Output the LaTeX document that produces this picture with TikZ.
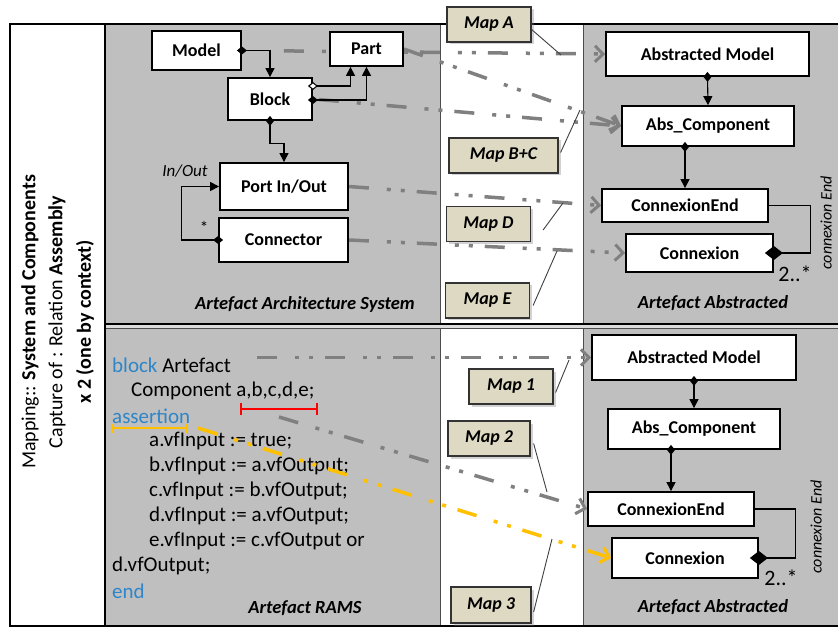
\documentclass[tikz,border=0pt]{standalone}
\usepackage{fontspec}
\setmainfont{Carlito}
\usetikzlibrary{arrows.meta,shadows}
\definecolor{panelgray}{RGB}{191,191,191}
\definecolor{linkgray}{RGB}{128,128,128}
\definecolor{maptan}{RGB}{221,217,195}
\definecolor{kwblue}{RGB}{46,134,200}
\definecolor{asrorange}{RGB}{255,192,0}
\pgfdeclarelayer{back}
\pgfdeclarelayer{links}
\pgfsetlayers{back,links,main}

\begin{document}
\begin{tikzpicture}[x=1pt,y=-1pt,
    every node/.style={font=\fontsize{17}{20}\selectfont},
    cls/.style={draw=black,line width=1.8pt,fill=white,inner sep=0pt,
      font=\fontsize{18}{20}\selectfont\bfseries},
    mapbox/.style={draw=black!80,line width=1.2pt,fill=maptan,inner sep=0pt,
      minimum width=84,minimum height=35,font=\fontsize{18}{20}\selectfont\bfseries\itshape,
      drop shadow={shadow xshift=2.5pt,shadow yshift=-2.5pt,opacity=0.35}},
    ttl/.style={font=\fontsize{18.5}{20}\selectfont\bfseries\itshape},
    code/.style={anchor=west,inner sep=0pt,font=\fontsize{21}{25}\selectfont},
    side/.style={rotate=90,inner sep=0pt,font=\fontsize{20}{24}\selectfont},
    endlbl/.style={rotate=90,inner sep=0pt,font=\fontsize{16}{18}\selectfont\itshape},
    comp/.style={line width=1.1pt,shorten <=-5pt,
      {Diamond[length=10pt,width=8pt]}-{Triangle[length=9pt,width=9pt]}},
    aggr/.style={line width=1.1pt,shorten <=-5pt,
      {Diamond[length=10pt,width=8pt,fill=white]}-{Triangle[length=9pt,width=9pt]}},
    map/.style={draw=linkgray,line width=3.5pt,
      dash pattern=on 20pt off 18pt on 4pt off 10pt on 4pt off 12pt,
      -{Straight Barb[length=8pt,width=16pt,line width=3pt]}},
    leader/.style={draw=black!75,line width=0.9pt}]
  \useasboundingbox (0,0) rectangle (838,628);

  % panels
  \begin{pgfonlayer}{back}
    \fill[panelgray!55] (105,323) rectangle (842,330);
    \draw[fill=panelgray,draw=black!70,line width=1pt] (105,24) rectangle (440,324);
    \draw[fill=white,draw=black!70,line width=1pt] (440,24) rectangle (583,324);
    \draw[fill=panelgray,draw=black!70,line width=1pt] (583,24) rectangle (842,324);
    \draw[fill=panelgray,draw=black!70,line width=1pt] (105,329) rectangle (440,626);
    \draw[fill=white,draw=black!70,line width=1pt] (440,329) rectangle (583,626);
    \draw[fill=panelgray,draw=black!70,line width=1pt] (583,329) rectangle (842,626);
    \draw[line width=2pt] (105,324) -- (842,324);
    \draw[line width=2.2pt] (10,24) rectangle (845,626);
    \draw[fill=white,line width=2.2pt] (10,24) rectangle (105,626);
  \end{pgfonlayer}

  % side title
  \node[side] (side1) at (30,322) {Mapping:: \textbf{System and Components}};
  \node[side] (side2) at (57,322) {Capture of : Relation \textbf{Assembly}};
  \node[side] (side3) at (85,322) {\textbf{x 2 (one by context)}};

  % architecture system
  \node[cls,minimum width=89,minimum height=39] (model) at (196.5,50.5) {Model};
  \node[cls,minimum width=73,minimum height=34] (part) at (366.5,49) {Part};
  \node[cls,minimum width=84,minimum height=42] (block) at (270,99) {Block};
  \node[cls,minimum width=128,minimum height=47] (port) at (284,186.5) {Port In/Out};
  \node[cls,minimum width=129,minimum height=44] (connector) at (283.5,240) {Connector};
  \node[font=\fontsize{17}{20}\selectfont\itshape] (inout) at (185,171) {In/Out};
  \node (star) at (204,227) {*};
  \node[ttl] (ttlsys) at (305,304) {Artefact Architecture System};

  \draw[comp] (model.east) -| (block.north);
  \draw[aggr] ([yshift=13pt]block.east) -| ([xshift=-16pt]part.south);
  \draw[comp] ([yshift=-1pt]block.east) -| (part.south);
  \draw[comp] (block.south) -- ++(0,23) -| (port.north);
  \draw[comp] (connector.west) -- ++(-37,0) |- (port.west);

  % abstracted (top)
  \node[cls,minimum width=203,minimum height=44] (am) at (707.5,54) {Abstracted Model};
  \node[cls,minimum width=172,minimum height=40] (ac) at (708,126) {Abs\_Component};
  \node[cls,minimum width=166,minimum height=33] (ce) at (685,205.5) {ConnexionEnd};
  \node[cls,minimum width=147,minimum height=38] (cx) at (699.5,253) {Connexion};
  \node[endlbl] (ceend) at (826,223) {connexion End};
  \node[font=\fontsize{22}{24}\selectfont] (mult) at (795,274) {2..*};
  \node[ttl] (ttlabs) at (713,303) {Artefact Abstracted};

  \draw[comp] (am.south) -- (ac.north);
  \draw[comp] (ac.south -| ce.north) -- (ce.north);
  \draw[line width=1.1pt,shorten <=-9pt,{Diamond[length=18pt,width=14pt]}-] (cx.east) -- ++(37,0) |- (ce.east);

  % RAMS code
  \foreach \cx/\cy/\ctxt [count=\i] in {
      112/365/{{\color{kwblue}block} Artefact},
      131/391/{Component a,b,c,d,e;},
      112/416/{{\color{kwblue}assertion}},
      149/441/{a.vfInput := true;},
      149/466/{b.vfInput := a.vfOutput;},
      149/491/{c.vfInput := b.vfOutput;},
      149/516/{d.vfInput := a.vfOutput;},
      149/541/{e.vfInput := c.vfOutput or},
      112/566/{d.vfOutput;},
      112/591/{{\color{kwblue}end}}}{
    \node[code] (code\i) at (\cx,\cy) {\ctxt};
  }
  \node[ttl] (ttlrams) at (305,608) {Artefact RAMS};
  \draw[red,line width=1.8pt,{Bar[width=12pt]}-{Bar[width=12pt]}] (240,409) -- (318,409);
  \draw[asrorange,line width=1.8pt,{Bar[width=9pt]}-{Bar[width=9pt]}] (112,428) -- (188,428);
  \coordinate (cmp) at (279,417);
  \coordinate (asr) at (198,428);

  % abstracted (bottom)
  \node[cls,minimum width=204,minimum height=45] (am2) at (694,357.5) {Abstracted Model};
  \node[cls,minimum width=172,minimum height=40] (ac2) at (694,429) {Abs\_Component};
  \node[cls,minimum width=166,minimum height=34] (ce2) at (671,509) {ConnexionEnd};
  \node[cls,minimum width=146,minimum height=40] (cx2) at (685,558) {Connexion};
  \node[endlbl] (ceend2) at (816,527) {connexion End};
  \node[font=\fontsize{22}{24}\selectfont] (mult2) at (781,578) {2..*};
  \node[ttl] (ttlabs2) at (713,607) {Artefact Abstracted};

  \draw[comp] (am2.south) -- (ac2.north);
  \draw[comp] (ac2.south -| ce2.north) -- (ce2.north);
  \draw[line width=1.1pt,shorten <=-9pt,{Diamond[length=18pt,width=14pt]}-] (cx2.east) -- ++(37,0) |- (ce2.east);

  % mappings
  \begin{pgfonlayer}{links}
    \draw[map,shorten <=42pt] (model.east) -- (am.west);
    \draw[map] (part.east) -- (ac.west);
    \draw[map,shorten <=6pt] (block.east) -- (ac.west);
    \draw[map] (port.east) -- (ce.west);
    \draw[map] (connector.east) -- (cx.west);
    \draw[map,shorten <=26pt] (code1.east |- am2.west) -- (am2.west);
  \end{pgfonlayer}
  \draw[map] (cmp) -- (ce2.west);
  \draw[map,draw=asrorange] (asr) -- (cx2.west);

  \node[mapbox] (mapA) at (489,24.5) {Map A};
  \node[mapbox,minimum width=109] (mapBC) at (503.5,155.5) {Map B+C};
  \node[mapbox] (mapD) at (488.5,224) {Map D};
  \node[mapbox] (mapE) at (487.5,300.5) {Map E};
  \node[mapbox] (map1) at (511,386.5) {Map 1};
  \node[mapbox,minimum width=82] (map2) at (489,438.5) {Map 2};
  \node[mapbox,minimum width=80,minimum height=36] (map3) at (491,605) {Map 3};

  \coordinate (tipA) at (561,55);
  \coordinate (tipBC) at (580,110);
  \coordinate (tipD) at (563,203);
  \coordinate (tipE) at (557,251);
  \coordinate (tip1) at (569,360);
  \coordinate (tip2) at (547,492);
  \coordinate (tip3) at (552,539);
  \draw[leader] ([yshift=-5pt]mapA.east) -- (tipA);
  \draw[leader] ([shift={(2pt,3pt)}]mapBC.east) -- (tipBC);
  \draw[leader] ([shift={(12pt,-6pt)}]mapD.east) -- (tipD);
  \draw[leader] ([shift={(3pt,-5pt)}]mapE.east) -- (tipE);
  \draw[leader] ([shift={(2pt,-6pt)}]map1.east) -- (tip1);
  \draw[leader] ([shift={(3pt,-5pt)}]map2.east) -- (tip2);
  \draw[leader] ([shift={(2pt,-7pt)}]map3.east) -- (tip3);
\end{tikzpicture}
\end{document}
